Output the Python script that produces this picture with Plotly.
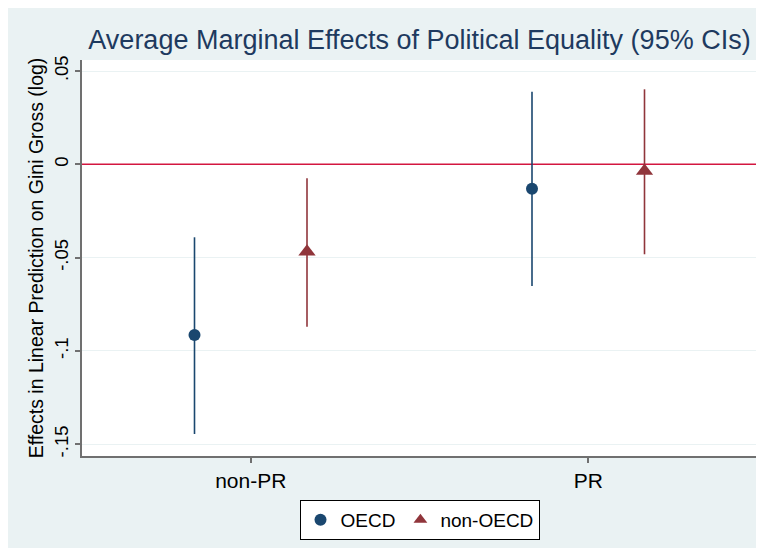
import plotly.graph_objects as go

categories = ["non-PR", "PR"]
series_names = ["OECD", "non-OECD"]
oecd_est = [-0.0915, -0.0131]
oecd_lo = [-0.1445, -0.0652]
oecd_hi = [-0.0391, 0.0389]
nonoecd_est = [-0.0468, -0.0036]
nonoecd_lo = [-0.0870, -0.0482]
nonoecd_hi = [-0.0075, 0.0402]
ytick_vals = [0.05, 0, -0.05, -0.1, -0.15]
ytick_text = [".05", "0", "-.05", "-.1", "-.15"]
ref_value = 0

FONT = "Liberation Sans, Arial, sans-serif"
BG = "#eaf2f3"
C1 = "#1a476f"
C2 = "#90353b"
XR = [0.5, 2.5]
offset = 1 / 6
base = [i + 1 for i in range(len(categories))]

# page body has an 8px margin, so the figure is sized/offset to compensate
W, H = 756, 548

fig = go.Figure()

# zero reference line (drawn first, under the markers)
fig.add_trace(go.Scatter(x=XR, y=[ref_value, ref_value], mode="lines",
                         line=dict(color="#d31640", width=1.6),
                         showlegend=False, hoverinfo="skip"))

def add_series(name, est, lo, hi, color, symbol, size, off):
    fig.add_trace(go.Scatter(
        x=[b + off for b in base], y=est, mode="markers", name=name,
        marker=dict(color=color, symbol=symbol, size=size, line=dict(width=0)),
        error_y=dict(type="data", symmetric=False,
                     array=[h - e for h, e in zip(hi, est)],
                     arrayminus=[e - l for e, l in zip(est, lo)],
                     color=color, thickness=1.6, width=0),
    ))

add_series(series_names[0], oecd_est, oecd_lo, oecd_hi, C1, "circle", 12, -offset)
add_series(series_names[1], nonoecd_est, nonoecd_lo, nonoecd_hi, C2, "triangle-up", 15, offset)

# background graph region (light blue) and white plot region
fig.add_shape(type="rect", xref="paper", yref="paper", x0=-0.111, x1=1.0044, y0=-0.2323, y1=1.1389,
              fillcolor=BG, line=dict(width=0), layer="below")
fig.add_shape(type="rect", xref="paper", yref="paper", x0=0, x1=1, y0=0, y1=1,
              fillcolor="white", line=dict(width=0), layer="below")

fig.update_layout(
    width=W, height=H,
    margin=dict(l=74, r=7, t=52, b=100, autoexpand=False),
    paper_bgcolor="white", plot_bgcolor="white",
    font=dict(family=FONT, color="black"),
    title=dict(text="Average Marginal Effects of Political Equality (95% CIs)",
               x=0.5, xref="paper", xanchor="center", y=1 - 32 / H, yanchor="middle",
               font=dict(size=27, color="#1e3a5f", family=FONT)),
    showlegend=True,
    legend=dict(orientation="h", x=0.5, xanchor="center", y=-0.1616, yanchor="middle",
                bgcolor="white", bordercolor="black", borderwidth=1,
                font=dict(size=19, color="black"), itemsizing="constant"),
    xaxis=dict(range=XR, tickvals=base, ticktext=categories,
               showgrid=False, zeroline=False, showline=True, linecolor="#707070", linewidth=1.5,
               ticks="outside", ticklen=5, tickcolor="#707070", tickwidth=1.5,
               tickfont=dict(size=21, color="black"), mirror=False),
    yaxis=dict(range=[-0.1563, 0.0559], tickvals=ytick_vals, ticktext=ytick_text,
               tickangle=-90, showgrid=True, gridcolor=BG, gridwidth=1, zeroline=False,
               showline=True, linecolor="#707070", linewidth=1.5,
               ticks="outside", ticklen=5, tickcolor="#707070", tickwidth=1.5,
               tickfont=dict(size=18.5, color="black"),
               title=dict(text="Effects in Linear Prediction on Gini Gross (log)",
                          font=dict(size=19.5, color="black"), standoff=2)),
)

fig.write_html("out.html")
